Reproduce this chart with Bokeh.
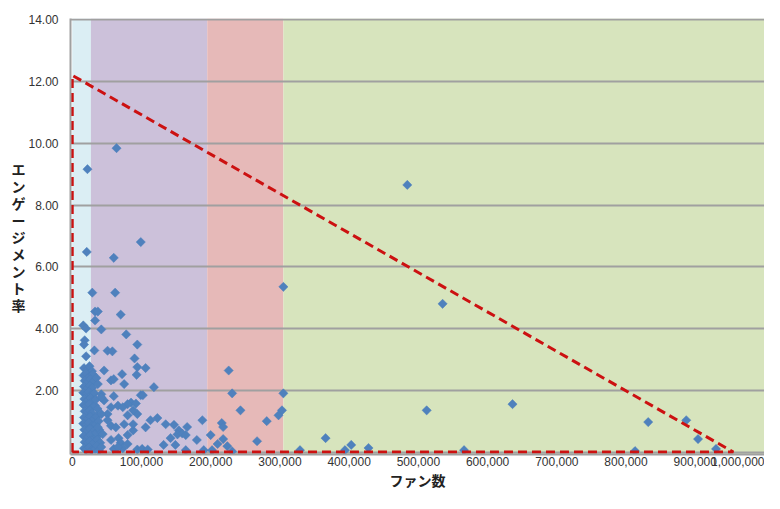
from bokeh.plotting import figure
from bokeh.models import (BoxAnnotation, Range1d, FixedTicker,
                          NumeralTickFormatter, CustomJSTickFormatter)
from bokeh.embed import file_html
from bokeh.resources import INLINE

# ---------------- data ----------------
x_ticks = [0, 100000, 200000, 300000, 400000, 500000, 600000, 700000, 800000, 900000, 1000000]
y_ticks = [0, 2, 4, 6, 8, 10, 12, 14]

band_start = [0, 27000, 195000, 305000]
band_end = [27000, 195000, 305000, 1000000]
band_color = ["#DBEEF4", "#CCC1DA", "#E6B9B8", "#D7E4BD"]

# threshold triangle (fans, rate)
limit_fans = [0, 0, 955000, 0]
limit_rate = [0, 12.2, 0, 0]

# dense cluster of small pages
fans_core = [17000, 21500, 25000, 28500,
             16500, 20000, 24500, 29500,
             18000, 22000, 26000, 30500,
             17000, 21000, 25500, 29000,
             16000, 20500, 24000, 28000, 32000,
             17500, 22500, 26500, 30000,
             16500, 20000, 24500, 29500, 33000,
             18000, 21500, 25000, 28500,
             17000, 22000, 26000, 31000,
             16000, 20500, 24000, 29000, 34000,
             17500, 21000, 25500, 30000,
             16500, 22500, 26500, 31500, 36000,
             18000, 21500, 25000, 29500,
             17000, 20000, 24500, 28000, 33000,
             34000, 36500, 35000, 38000, 34500, 39000, 36000, 40500, 35500, 38500]
rate_core = [2.72, 2.66, 2.78, 2.62,
             2.48, 2.55, 2.44, 2.52,
             2.31, 2.26, 2.36, 2.28,
             2.12, 2.05, 2.15, 2.08,
             1.92, 1.88, 1.95, 1.86, 1.90,
             1.72, 1.68, 1.75, 1.66,
             1.52, 1.48, 1.55, 1.46, 1.50,
             1.32, 1.28, 1.35, 1.26,
             1.12, 1.08, 1.15, 1.06,
             0.92, 0.88, 0.95, 0.86, 0.90,
             0.72, 0.68, 0.75, 0.66,
             0.52, 0.48, 0.55, 0.46, 0.50,
             0.32, 0.28, 0.35, 0.26,
             0.12, 0.08, 0.15, 0.06, 0.10,
             1.70, 1.40, 1.15, 1.00, 0.62, 0.72, 0.40, 0.30, 0.20, 0.05]

# purple band (and a few light-blue) pages
fans_mid = [22000, 64000, 99000, 21000, 60000, 29000, 62000,
            33000, 37000, 70000, 33000, 16000, 20000, 42000, 78000, 18000, 17000,
            94000, 32000, 51000, 58000, 20000, 90000, 94000, 106000, 46000, 72000,
            93000, 56000, 60000, 75000, 118000, 35000, 37000, 85000, 99000, 80000,
            92000, 66000, 73000, 94000, 51000, 113000, 123000, 106000, 135000, 147000,
            154000, 166000, 188000, 142000, 152000, 159000, 164000, 180000, 132000,
            149000, 164000, 190000, 56000, 63000, 67000, 70000, 80000, 88000, 94000,
            101000, 109000, 60000, 73000, 42000, 46000, 56000, 42000, 51000, 37000,
            44000, 56000, 42000, 66000, 80000, 75000, 80000, 88000, 88000, 102000, 42000, 60000]
rate_mid = [9.16, 9.84, 6.80, 6.48, 6.29, 5.16, 5.16,
            4.55, 4.55, 4.45, 4.26, 4.10, 4.00, 3.97, 3.81, 3.62, 3.48,
            3.48, 3.29, 3.28, 3.26, 3.10, 3.03, 2.75, 2.72, 2.64, 2.52,
            2.50, 2.32, 2.36, 2.20, 2.10, 2.40, 2.20, 1.60, 1.84, 1.55,
            1.57, 1.50, 1.45, 1.23, 1.23, 1.03, 1.10, 0.80, 0.90, 0.88,
            0.70, 0.81, 1.03, 0.45, 0.57, 0.60, 0.55, 0.39, 0.23,
            0.23, 0.06, 0.06, 0.85, 0.80, 0.45, 0.30, 0.55, 0.70, 0.08,
            0.10, 0.08, 0.10, 0.12, 1.87, 1.67, 1.45, 1.23, 1.03, 0.80,
            0.58, 0.39, 0.16, 0.16, 0.26, 0.90, 1.19, 1.35, 0.90, 1.84, 1.77, 1.81]

# red band pages
fans_red = [226000, 231000, 243000, 216000, 218000, 200000, 210000, 218000,
            224000, 231000, 281000, 267000, 305000, 303000, 298000, 202000, 305000]
rate_red = [2.64, 1.90, 1.35, 0.94, 0.81, 0.55, 0.26, 0.42,
            0.19, 0.02, 1.00, 0.35, 1.90, 1.35, 1.19, 0.06, 5.35]

# green band pages
fans_big = [329000, 366000, 394000, 403000, 428000, 484000, 535000, 512000,
            566000, 636000, 813000, 832000, 887000, 904000, 930000]
rate_big = [0.06, 0.45, 0.06, 0.23, 0.13, 8.65, 4.80, 1.35,
            0.06, 1.55, 0.03, 0.97, 1.03, 0.42, 0.10]

# ---------------- figure ----------------
p = figure(width=764, height=500, output_backend="svg", toolbar_location=None,
           x_range=Range1d(-2500, 1000000), y_range=Range1d(-0.08, 14.04),
           min_border_left=70, min_border_right=0, min_border_top=18,
           min_border_bottom=46, background_fill_color="white",
           border_fill_color="white")
p.outline_line_color = None

for s, e, c in zip(band_start, band_end, band_color):
    p.add_layout(BoxAnnotation(left=s, right=e, fill_color=c, fill_alpha=1.0,
                               line_color=None, level="image"))

p.xgrid.grid_line_color = None
p.ygrid.grid_line_color = "#A0A0A0"
p.ygrid.grid_line_width = 2
p.ygrid.ticker = FixedTicker(ticks=y_ticks)

p.xaxis.ticker = FixedTicker(ticks=x_ticks)
p.xaxis.formatter = NumeralTickFormatter(format="0,0")
p.yaxis.ticker = FixedTicker(ticks=y_ticks)
p.yaxis.formatter = CustomJSTickFormatter(code="return tick == 0 ? '' : tick.toFixed(2);")

for ax in (p.xaxis, p.yaxis):
    ax.axis_line_color = "#A0A0A0"
    ax.axis_line_width = 2
    ax.major_tick_line_color = None
    ax.minor_tick_line_color = None
    ax.major_tick_out = 0
    ax.major_tick_in = 0
    ax.major_label_text_font = "Liberation Sans"
    ax.major_label_text_font_size = "12px"
    ax.major_label_text_color = "#333333"
    ax.axis_label_text_font = "Noto Sans CJK JP"
    ax.axis_label_text_font_style = "bold"
    ax.axis_label_text_color = "#222222"
p.xaxis.major_label_standoff = 2
p.yaxis.major_label_standoff = 12

p.xaxis.axis_label = "ファン数"
p.xaxis.axis_label_text_font_size = "14px"
p.xaxis.axis_label_standoff = 1

p.yaxis.axis_label = "エ\nン\nゲ\nー\nジ\nメ\nン\nト\n率"
p.yaxis.axis_label_orientation = "horizontal"
p.yaxis.axis_label_text_font_size = "14px"
p.yaxis.axis_label_text_line_height = 0.85
p.yaxis.axis_label_standoff = 0

all_fans = fans_core + fans_mid + fans_red + fans_big
all_rate = rate_core + rate_mid + rate_red + rate_big
p.scatter(all_fans, all_rate, marker="square", angle=0.785398, size=6.5,
          fill_color="#4F81BD", line_color="#4A7EBB", line_width=0.5)

p.line(limit_fans, limit_rate, line_color="#CC1111", line_width=3, line_dash="9 5")

open("out.html", "w").write(file_html(p, INLINE))
